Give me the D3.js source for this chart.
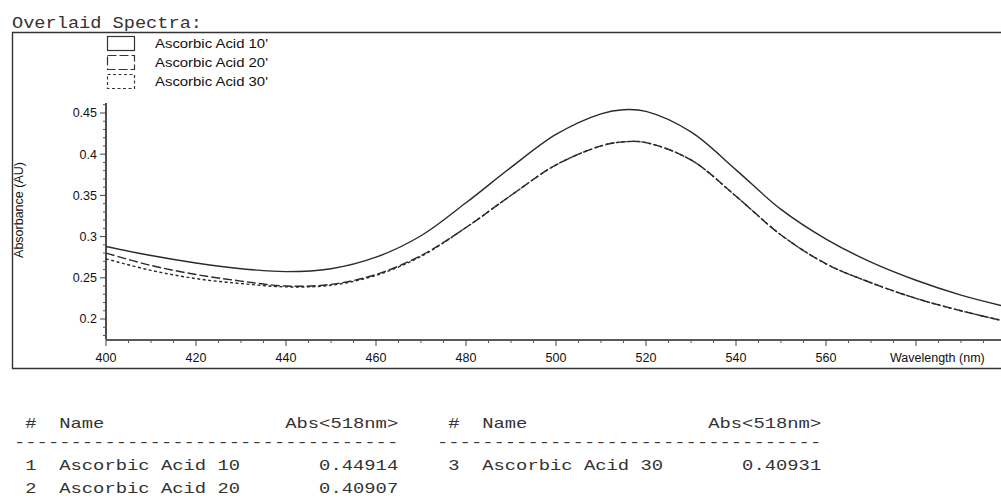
<!DOCTYPE html>
<html>
<head>
<meta charset="utf-8">
<script src="https://cdn.jsdelivr.net/npm/d3@7"></script>
<style>
  body { margin: 0; background: #fff; overflow: hidden; }
  svg { display: block; }
  .mono { font-family: 'Courier New', 'Liberation Mono', monospace; fill: #333; }
  .sans { font-family: 'Liberation Sans Narrow', 'Liberation Sans', Arial, sans-serif; fill: #111; }
</style>
</head>
<body>
<svg width="1001" height="498"></svg>
<script>
// wavelengths (nm) and absorbance values
const wavelengths = [400, 410, 420, 430, 440, 450, 460, 470, 480, 490, 500, 510, 515, 520, 530, 540, 550, 560, 570, 580, 590, 600];
const acid10 = [0.288, 0.277, 0.268, 0.261, 0.2575, 0.261, 0.275, 0.301, 0.341, 0.384, 0.424, 0.449, 0.454, 0.452, 0.427, 0.381, 0.333, 0.297, 0.269, 0.247, 0.229, 0.215];
const acid20 = [0.280, 0.265, 0.254, 0.246, 0.240, 0.242, 0.254, 0.277, 0.311, 0.350, 0.387, 0.410, 0.415, 0.414, 0.393, 0.349, 0.302, 0.267, 0.244, 0.225, 0.210, 0.197];
const acid30 = [0.273, 0.259, 0.249, 0.243, 0.239, 0.241, 0.253, 0.276, 0.311, 0.350, 0.387, 0.410, 0.415, 0.414, 0.393, 0.349, 0.302, 0.267, 0.244, 0.225, 0.210, 0.197];

const seriesNames = ["Ascorbic Acid 10'", "Ascorbic Acid 20'", "Ascorbic Acid 30'"];
const xTicks = [400, 420, 440, 460, 480, 500, 520, 540, 560];
const yTicks = [0.2, 0.25, 0.3, 0.35, 0.4, 0.45];

// results table
const tableLeft = [
  ["1", "Ascorbic Acid 10", "0.44914"],
  ["2", "Ascorbic Acid 20", "0.40907"]
];
const tableRight = [
  ["3", "Ascorbic Acid 30", "0.40931"]
];

const svg = d3.select('svg');
const ink = '#222';

const x = d3.scaleLinear().domain([400, 600]).range([106, 1006]);
const y = d3.scaleLinear().domain([0.175, 0.462]).range([339.6, 103.1]);

// title + outer frame
svg.append('text').attr('class', 'mono')
  .attr('x', 12).attr('y', 28)
  .attr('font-size', 16)
  .attr('textLength', 190).attr('lengthAdjust', 'spacingAndGlyphs')
  .text('Overlaid Spectra:');

svg.append('path')
  .attr('d', 'M1001,32.5 H12.5 V368.5 H1001')
  .attr('fill', 'none').attr('stroke', '#333').attr('stroke-width', 1.4);

// x axis
const xAxis = svg.append('g').attr('transform', 'translate(0,340)');
xAxis.append('line').attr('x1', 106).attr('x2', 1001).attr('y1', 0).attr('y2', 0)
  .attr('stroke', ink).attr('stroke-width', 1.6);
xAxis.selectAll('.minor')
  .data(d3.range(400, 600, 5).filter(v => v % 20 !== 0))
  .enter().append('line')
  .attr('x1', d => x(d)).attr('x2', d => x(d))
  .attr('y1', 0).attr('y2', 3)
  .attr('stroke', '#555');
xAxis.selectAll('.major')
  .data(d3.range(400, 600, 20))
  .enter().append('line')
  .attr('x1', d => x(d)).attr('x2', d => x(d))
  .attr('y1', 0).attr('y2', 6)
  .attr('stroke', '#444');
xAxis.selectAll('.lbl')
  .data(xTicks)
  .enter().append('text')
  .attr('class', 'sans')
  .attr('x', d => x(d)).attr('y', 22)
  .attr('text-anchor', 'middle')
  .attr('font-size', 12.5)
  .text(d => d);
xAxis.append('text').attr('class', 'sans')
  .attr('x', 890).attr('y', 22)
  .attr('font-size', 12.5)
  .text('Wavelength (nm)');

// y axis
const yAxis = svg.append('g').attr('transform', 'translate(106,0)');
yAxis.append('line').attr('x1', 0).attr('x2', 0).attr('y1', y(0.462)).attr('y2', y(0.175))
  .attr('stroke', ink).attr('stroke-width', 1.6);
yAxis.selectAll('.minor')
  .data(d3.range(0.18, 0.462, 0.01).filter(v => Math.round(v * 100) % 5 !== 0))
  .enter().append('line')
  .attr('x1', -3).attr('x2', 0)
  .attr('y1', d => y(d)).attr('y2', d => y(d))
  .attr('stroke', '#555');
yAxis.selectAll('.major')
  .data(yTicks)
  .enter().append('line')
  .attr('x1', -6).attr('x2', 0)
  .attr('y1', d => y(d)).attr('y2', d => y(d))
  .attr('stroke', '#444');
yAxis.selectAll('.lbl')
  .data(yTicks)
  .enter().append('text')
  .attr('class', 'sans')
  .attr('x', -9).attr('y', d => y(d) + 4.5)
  .attr('text-anchor', 'end')
  .attr('font-size', 12.5)
  .text(d => d);

svg.append('text').attr('class', 'sans')
  .attr('transform', 'translate(23,210) rotate(-90)')
  .attr('text-anchor', 'middle')
  .attr('font-size', 12.5)
  .text('Absorbance (AU)');

// spectra
const dashes = [null, '9,3', '3,2.5'];
const series = [acid10, acid20, acid30];
const line = d3.line()
  .x((d, i) => x(wavelengths[i]))
  .y(d => y(d))
  .curve(d3.curveCatmullRom.alpha(0.5));

svg.append('defs').append('clipPath').attr('id', 'plot')
  .append('rect').attr('x', 106).attr('y', 33).attr('width', 900).attr('height', 307);

svg.append('g').attr('clip-path', 'url(#plot)')
  .selectAll('path')
  .data(series)
  .enter().append('path')
  .attr('d', d => line(d))
  .attr('fill', 'none')
  .attr('stroke', '#2a2a2a')
  .attr('stroke-width', 1.4)
  .attr('stroke-dasharray', (d, i) => dashes[i]);

// legend
const legend = svg.append('g');
seriesNames.forEach((name, i) => {
  const cy = 44 + i * 19;
  legend.append('rect')
    .attr('x', 107.5).attr('y', cy - 7.5)
    .attr('width', 27).attr('height', 14)
    .attr('fill', 'none').attr('stroke', '#333').attr('stroke-width', 1.2)
    .attr('stroke-dasharray', dashes[i]);
  legend.append('text').attr('class', 'sans')
    .attr('x', 155).attr('y', cy + 4)
    .attr('font-size', 12)
    .attr('textLength', 113).attr('lengthAdjust', 'spacingAndGlyphs')
    .text(name);
});

// results table (monospace printout)
const cw = 11.3;
function mono(x0, y0, col, str) {
  svg.append('text').attr('class', 'mono')
    .attr('x', x0 + col * cw).attr('y', y0)
    .attr('font-size', 15)
    .attr('textLength', str.length * cw).attr('lengthAdjust', 'spacingAndGlyphs')
    .text(str);
}
function table(x0, rows) {
  mono(x0, 428, 1, '#');
  mono(x0, 428, 4, 'Name');
  mono(x0, 428, 24, 'Abs<518nm>');
  mono(x0, 447, 0, '-'.repeat(34));
  rows.forEach((r, i) => {
    const yy = 470 + i * 23;
    mono(x0, yy, 1, r[0]);
    mono(x0, yy, 4, r[1]);
    mono(x0, yy, 34 - r[2].length, r[2]);
  });
}
table(14, tableLeft);
table(437, tableRight);
</script>
</body>
</html>
